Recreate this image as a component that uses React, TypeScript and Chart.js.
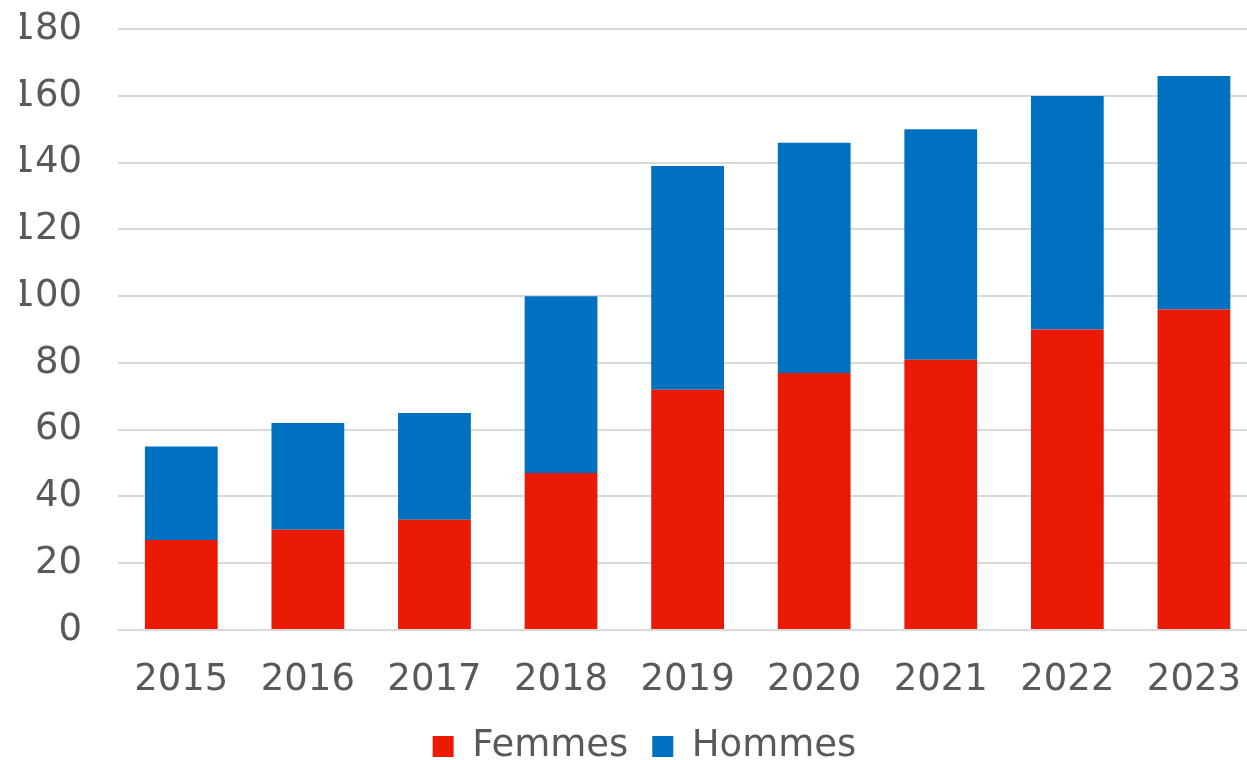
import React, { useEffect, useRef } from "react";
import { Chart, registerables } from "chart.js";

Chart.register(...registerables);

const categories = ["2015", "2016", "2017", "2018", "2019", "2020", "2021", "2022", "2023"];
const femmes = [27, 30, 33, 47, 72, 77, 81, 90, 96];
const hommes = [28, 32, 32, 53, 67, 69, 69, 70, 70];

export default function App() {
  const ref = useRef<HTMLCanvasElement>(null);
  useEffect(() => {
    if (!ref.current) return;
    const font = "'DejaVu Sans', Verdana, sans-serif";
    const chart = new Chart(ref.current, {
      type: "bar",
      data: {
        labels: categories,
        datasets: [
          { label: "Femmes", data: femmes, backgroundColor: "#EA1A05", barPercentage: 0.575, categoryPercentage: 1 },
          { label: "Hommes", data: hommes, backgroundColor: "#0070C0", barPercentage: 0.575, categoryPercentage: 1 },
        ],
      },
      options: {
        animation: false,
        responsive: false,
        maintainAspectRatio: false,
        layout: { padding: { top: 11, left: 20, right: 0, bottom: 0 } },
        plugins: {
          tooltip: { enabled: false },
          legend: {
            position: "bottom",
            labels: {
              boxWidth: 21,
              boxHeight: 21,
              color: "#595959",
              font: { family: font, size: 37 },
              padding: 24,
            },
          },
        },
        scales: {
          x: {
            stacked: true,
            grid: { display: false, drawTicks: false },
            border: { display: true, color: "#d9d9d9", width: 2 },
            ticks: { color: "#595959", font: { family: font, size: 37 }, padding: 28, maxRotation: 0 },
            afterFit: (s: any) => { s.height = 74; },
          },
          y: {
            stacked: true,
            min: 0,
            max: 180,
            grid: { color: "#d9d9d9", lineWidth: 2, drawTicks: false },
            border: { display: false },
            ticks: { stepSize: 20, color: "#595959", font: { family: font, size: 37 }, padding: 36 },
            afterFit: (s: any) => { s.width = 98; },
          },
        },
      },
    });
    return () => chart.destroy();
  }, []);
  return (
    <div style={{ position: "absolute", left: 0, top: 0, width: 1247, height: 760, overflow: "hidden" }}>
      <canvas ref={ref} width={1269} height={804} style={{ display: "block", marginTop: -29 }} />
    </div>
  );
}
